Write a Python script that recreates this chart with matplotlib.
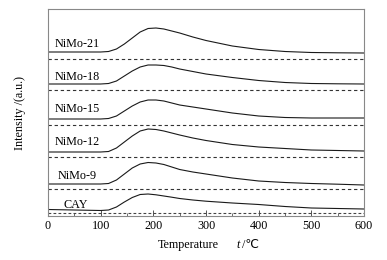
import numpy as np
import matplotlib.pyplot as plt

plt.rcParams['font.family'] = ['Liberation Serif', 'DejaVu Sans']

# temperature points (deg C)
temps = [0, 50, 100, 115, 130, 145, 160, 175, 190, 205, 220, 235, 250, 275, 300, 350, 400, 450, 500, 550, 600]

# curves, offset in the stacked plot (arbitrary units)
nimo21 = [164, 164, 164, 164.5, 167, 172, 178, 184, 187.5, 188, 187, 185, 183, 179, 175.5, 170, 166.5, 164.5, 163.5, 163.2, 163]
nimo18 = [132, 132, 132, 132.5, 135, 140, 145, 149, 151, 151, 150.5, 149, 147, 144.5, 142, 138.5, 135.5, 133.5, 132.5, 132.2, 132]
nimo15 = [97, 97, 97, 97.5, 100, 105, 110, 114, 116, 116, 115, 113, 111, 109, 107, 103, 100, 98.5, 98, 98, 98]
nimo12 = [64, 64, 64, 64.5, 68, 74, 80, 85, 87, 86.5, 85, 83, 81, 78, 75.5, 71.5, 69, 67.5, 66, 65.5, 65]
nimo9 = [32, 32, 32, 32.5, 36, 42, 48, 52, 53.5, 53, 51.5, 49, 46.5, 44, 42, 38, 35, 33.5, 32.5, 31.8, 31]
cay = [6.5, 6, 5.5, 6, 9, 14, 18.5, 21.5, 22, 21.2, 20, 18.8, 17.5, 16, 14.8, 13, 11.5, 9.5, 8, 7.5, 7]

names = ['NiMo-21', 'NiMo-18', 'NiMo-15', 'NiMo-12', 'NiMo-9', 'CAY']
series = [nimo21, nimo18, nimo15, nimo12, nimo9, cay]
base_levels = [157, 126, 91, 59, 27, 3]          # dashed reference lines
label_pos = [(12, 169), (12, 136), (12, 104), (12, 71), (18, 37), (30, 8)]

fig = plt.figure(figsize=(3.87, 2.60), dpi=100)
ax = fig.add_axes([48/387, 44/260, 316/387, 207/260])

for name, y, b, (lx, ly) in zip(names, series, base_levels, label_pos):
    ax.plot(temps, y, color='#1a1a1a', lw=0.8)
    if name == 'CAY':
        ax.axhline(b, color='#444444', lw=0.8, dashes=(2.5, 2))
    else:
        ax.axhline(b, color='#333333', lw=0.8, dashes=(3, 2.5))
    ax.text(lx, ly, name, fontsize=8.7, ha='left', va='baseline')

ax.set_xlim(0, 600)
ax.set_ylim(0, 207)
ax.set_xticks(np.arange(0, 601, 100))
ax.set_xticks(np.arange(0, 601, 50), minor=True)
ax.set_yticks([])
ax.tick_params(axis='x', direction='in', length=4, width=0.7, color='#555555',
               labelsize=8.7, pad=3)
ax.tick_params(axis='x', which='minor', direction='in', length=2, width=0.6, color='#555555')
for s in ax.spines.values():
    s.set_color('#888888')
    s.set_linewidth(0.8)

# x label in pieces: upright text, italic t, upright unit
fig.text(158/387, 15/260, 'Temperature', fontsize=8.7, ha='left', va='center')
fig.text(236/387, 15/260, 't', fontsize=8.7, style='italic', ha='left', va='center')
fig.text(242/387, 15/260, '/℃', fontsize=8.7, ha='left', va='center')
ax.set_ylabel('Intensity /(a.u.)', fontsize=8.7, labelpad=16)

fig.savefig('out.png', dpi=100)
